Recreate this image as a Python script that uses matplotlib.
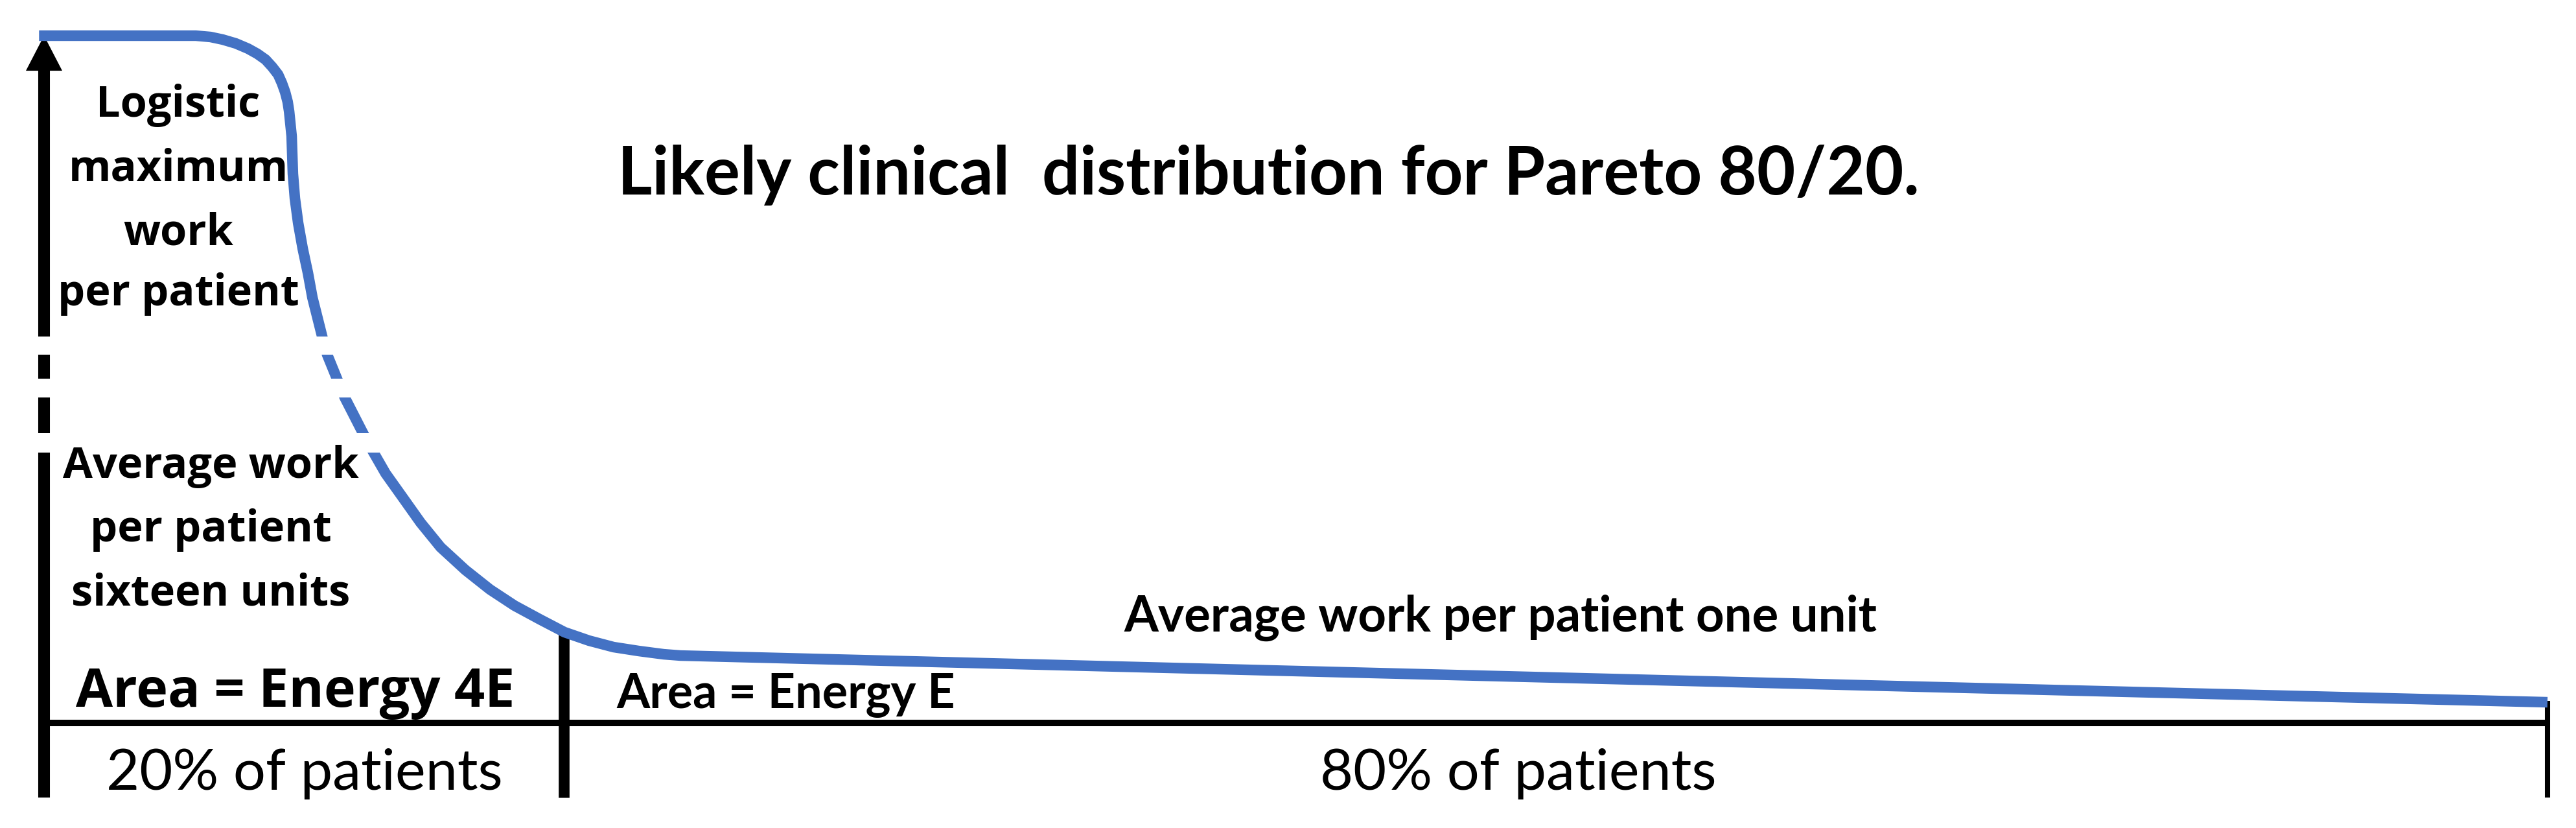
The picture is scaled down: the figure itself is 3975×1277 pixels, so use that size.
import matplotlib
matplotlib.use("Agg")
import matplotlib.pyplot as plt

# Curve: x = percent of patients, y = work per patient (top = 100)
patient_pct = [-0.2, 6.06, 6.65, 7.14, 7.66, 8.15, 8.52, 8.85, 9.11, 9.35, 9.50, 9.63,
               9.73, 9.79, 9.89, 9.94, 10.02, 10.15, 10.33, 10.54, 10.72, 11.11,
               11.31, 11.70, 12.01, 12.74, 13.12, 13.64, 14.34, 15.04, 15.84, 16.83,
               17.81, 18.79, 19.80, 20.79, 21.77, 22.75, 23.76, 24.75, 25.42,
               55.19, 75.90, 100.0]
work = [100.0, 100.0, 99.81, 99.43, 98.87, 98.11, 97.36, 96.51, 95.47, 94.34, 93.11, 91.79,
        90.38, 88.96, 85.38, 79.91, 76.32, 72.74, 69.06, 65.47, 61.89, 56.23,
        53.58, 50.09, 47.36, 42.17, 39.62, 36.32, 32.74, 29.15, 25.57, 22.26,
        19.43, 17.08, 15.09, 13.21, 11.98, 11.04, 10.47, 10.00, 9.81,
        7.08, 5.19, 3.02]

# broken-axis gaps (y ranges cut out of the axis and the curve)
break_lo = [53.6, 47.4, 39.3]
break_hi = [56.2, 50.1, 42.2]

split_pct = 20.76      # divider between the two groups
axis_bottom = -10.85
divider_top = 13.2
right_top = 3.2
arrow_base = 94.9
arrow_tip = 100.0

title = "Likely clinical  distribution for Pareto 80/20."
top_left_lines = ["Logistic", "maximum", "work", "per patient"]
top_left_y = [88.2, 78.9, 69.6, 60.75]
mid_left_lines = ["Average work", "per patient", "sixteen units"]
mid_left_y = [35.66, 26.42, 17.17]
area_left = "Area = Energy 4E"
area_right = "Area = Energy E"
avg_right = "Average work per patient one unit"
group_labels = ["20% of patients", "80% of patients"]
group_x = [2.49, 50.97]

BLUE = "#4472C4"
BOLD_WIDE = dict(family="Open Sans", weight="bold")
CALIBRI_LIKE = ["Lato", "DejaVu Sans"]

fig = plt.figure(figsize=(39.75, 12.77), dpi=100)
ax = fig.add_axes([0, 0, 1, 1])
ax.set_xlim(-1.760, 101.14)
ax.set_ylim(-15.28, 105.19)
ax.axis("off")

renderer = fig.canvas.get_renderer()


def fit(t, width_px):
    # scale font so the text spans the width seen in the picture
    w = t.get_window_extent(renderer).width
    t.set_fontsize(t.get_fontsize() * width_px / w)
    return t


# curve
ax.plot(patient_pct, work, color=BLUE, lw=11.8, solid_capstyle="butt",
        solid_joinstyle="round", zorder=3)

# axes lines
ax.plot([0, 0], [axis_bottom, arrow_base], color="black", lw=13,
        solid_capstyle="butt", zorder=2)
ax.fill([-0.725, 0.725, 0], [arrow_base, arrow_base, arrow_tip], color="black",
        lw=0, zorder=2)
ax.plot([0, 100], [0, 0], color="black", lw=7.2, solid_capstyle="butt", zorder=2)
ax.plot([split_pct, split_pct], [axis_bottom, divider_top], color="black", lw=12,
        solid_capstyle="butt", zorder=2)
ax.plot([100, 100], [axis_bottom, right_top], color="black", lw=5.8,
        solid_capstyle="butt", zorder=2)

for lo, hi in zip(break_lo, break_hi):
    ax.fill_between([-1.5, 14.5], lo, hi, color="white", lw=0, zorder=4)

# texts
t = ax.text(22.91, 76.9, title, fontsize=70, color="black", va="baseline",
            family=CALIBRI_LIKE, weight="bold", zorder=5)
fit(t, 2010)

ref = ax.text(5.36, top_left_y[3], top_left_lines[3], fontsize=50, ha="center",
              va="baseline", zorder=5, **BOLD_WIDE)
fit(ref, 373)
fs_left = ref.get_fontsize()
for s, y in zip(top_left_lines[:3], top_left_y[:3]):
    ax.text(5.36, y, s, fontsize=fs_left, ha="center", va="baseline", zorder=5,
            **BOLD_WIDE)
for s, y in zip(mid_left_lines, mid_left_y):
    ax.text(6.65, y, s, fontsize=fs_left, ha="center", va="baseline", zorder=5,
            **BOLD_WIDE)

t = ax.text(10.04, 2.36, area_left, fontsize=60, ha="center", va="baseline",
            zorder=5, **BOLD_WIDE)
fit(t, 677)

t = ax.text(22.88, 2.17, area_right, fontsize=45, va="baseline",
            family=CALIBRI_LIKE, weight="bold", zorder=5)
fit(t, 523)

t = ax.text(43.13, 13.3, avg_right, fontsize=45, va="baseline",
            family=CALIBRI_LIKE, weight="bold", zorder=5)
fit(t, 1163)

for s, x in zip(group_labels, group_x):
    t = ax.text(x, -9.72, s, fontsize=60, va="baseline", family=CALIBRI_LIKE,
                zorder=5)
    fit(t, 612)

fig.savefig("out.png", dpi=100, facecolor="white")
